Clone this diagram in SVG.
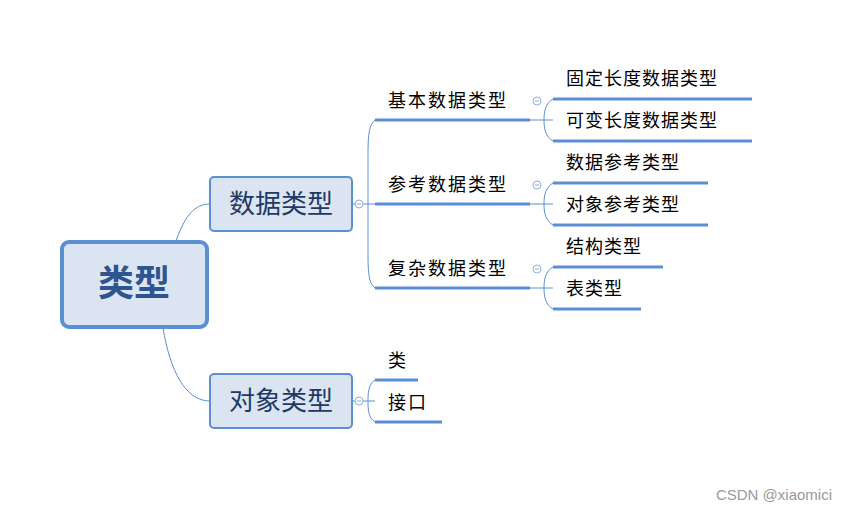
<svg xmlns="http://www.w3.org/2000/svg" width="847" height="511" viewBox="0 0 847 511">
<style>
text{font-family:"Microsoft YaHei","Noto Sans CJK SC",sans-serif;fill:#000}
.c{fill:none;stroke:#5b8fd3;stroke-width:1}
.u{stroke:#5b8fd3;stroke-width:3;fill:none}
.t{font-size:18px}
.box{fill:#dbe5f1;stroke:#5b8fd3;stroke-width:2}
.m{font-size:26px;fill:#1f3864}
.k{fill:#fff;stroke:#8fb0dc;stroke-width:1}
</style>
<rect width="847" height="511" fill="#fff"/>
<g id="connectors">
<path class="c" d="M176,241 C185,215 195,204 210,204"/>
<path class="c" d="M163,328 C170,370 185,401 210,401"/>
<path class="c" d="M352,204 H375"/>
<path class="c" d="M375,120 C368,125 368,140 368,160 V250 C368,270 368,283 375,288"/>
<path class="c" d="M352,401 H375"/>
<path class="c" d="M375,380 C368,384 368,395 368,401 C368,408 368,418 375,422"/>
<path class="c" d="M530,120 H553 M553,99 C546,103 544,110 544,120 C544,130 546,137 553,141"/>
<path class="c" d="M530,204 H553 M553,183 C546,187 544,194 544,204 C544,214 546,221 553,225"/>
<path class="c" d="M530,288 H553 M553,267 C546,271 544,278 544,288 C544,298 546,305 553,309"/>
<path class="u" d="M375,120 H530 M375,204 H530 M375,288 H530 M553,99 H752 M553,141 H752 M553,183 H708 M553,225 H708 M553,267 H663 M553,309 H641 M375,380 H418 M375,422 H442"/>
<circle class="k" cx="359" cy="204" r="4"/><path d="M357,204h4" stroke="#8fb0dc"/>
<circle class="k" cx="359" cy="401" r="4"/><path d="M357,401h4" stroke="#8fb0dc"/>
<circle class="k" cx="537" cy="101" r="4"/><path d="M535,101h4" stroke="#8fb0dc"/>
<circle class="k" cx="537" cy="185" r="4"/><path d="M535,185h4" stroke="#8fb0dc"/>
<circle class="k" cx="537" cy="269" r="4"/><path d="M535,269h4" stroke="#8fb0dc"/>
</g>
<g id="root"><rect x="62" y="242" width="145" height="85" rx="7" fill="#dbe5f1" stroke="#5b8fd3" stroke-width="4"/>
<text x="134" y="296" font-size="36" font-weight="bold" fill="#2f5490" text-anchor="middle" style="fill:#2f5490">类型</text></g>
<g id="n1"><rect class="box" x="210" y="177" width="142" height="54" rx="4"/><text class="m" x="281" y="213" text-anchor="middle">数据类型</text></g>
<g id="n2"><rect class="box" x="210" y="374" width="142" height="54" rx="4"/><text class="m" x="281" y="410" text-anchor="middle">对象类型</text></g>
<g id="b1"><text class="t" x="388" y="107" letter-spacing="2">基本数据类型</text></g>
<g id="b2"><text class="t" x="388" y="191" letter-spacing="2">参考数据类型</text></g>
<g id="b3"><text class="t" x="388" y="275" letter-spacing="2">复杂数据类型</text></g>
<g id="l1"><text class="t" x="566" y="85" letter-spacing="1">固定长度数据类型</text></g>
<g id="l2"><text class="t" x="566" y="127" letter-spacing="1">可变长度数据类型</text></g>
<g id="l3"><text class="t" x="566" y="169" letter-spacing="1">数据参考类型</text></g>
<g id="l4"><text class="t" x="566" y="211" letter-spacing="1">对象参考类型</text></g>
<g id="l5"><text class="t" x="566" y="253" letter-spacing="1">结构类型</text></g>
<g id="l6"><text class="t" x="566" y="295" letter-spacing="1">表类型</text></g>
<g id="o1"><text class="t" x="388" y="367">类</text></g>
<g id="o2"><text class="t" x="388" y="409" letter-spacing="2">接口</text></g>
<text x="832" y="500" font-size="15" text-anchor="end" style="fill:#999;font-family:'Liberation Sans',sans-serif">CSDN @xiaomici</text>
</svg>
